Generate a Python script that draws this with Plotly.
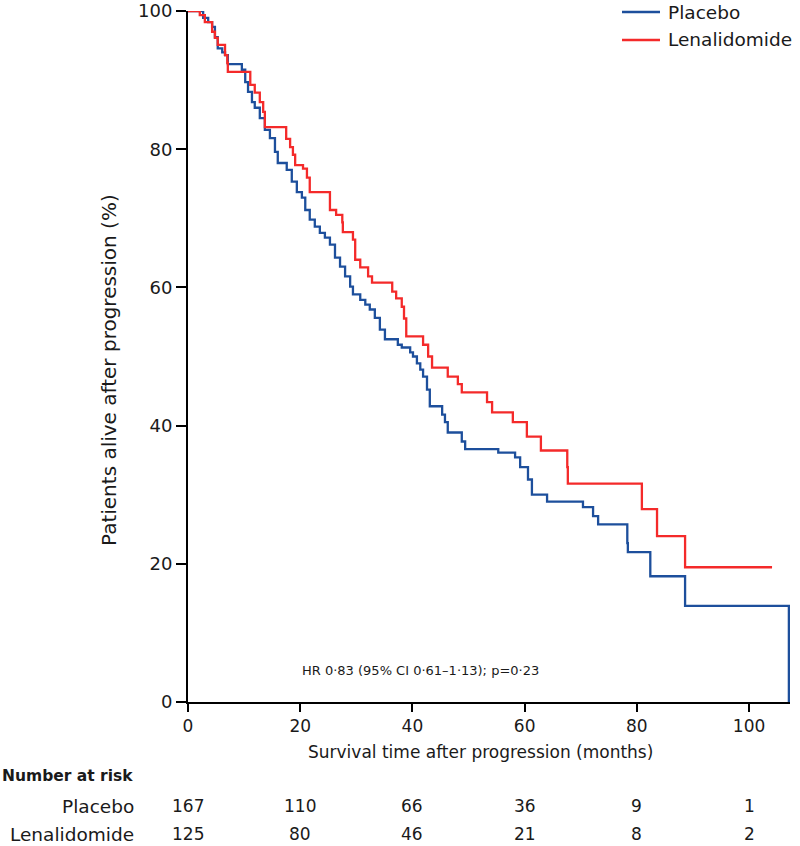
import plotly.graph_objects as go

# Kaplan-Meier steps (months, % alive)
placebo_t = [0, 2.7, 3.6, 4.3, 4.8, 5.3, 6.1, 6.6, 7.1, 9.6, 10.2, 10.7, 11.4, 11.9, 12.8,
             13.7, 14.6, 15.5, 16.0, 17.6, 18.5, 19.4, 20.3, 20.9, 21.7, 22.6, 23.5, 24.4,
             25.3, 26.2, 27.1, 28.0, 28.9, 29.4, 30.7, 31.6, 32.4, 33.3, 34.2, 35.1, 37.4,
             38.1, 39.6, 40.1, 40.8, 41.4, 41.9, 42.6, 43.1, 45.3, 45.8, 46.3, 48.8, 49.4,
             55.3, 58.3, 59.2, 60.6, 61.3, 64.0, 70.4, 72.2, 73.1, 78.3, 78.4, 82.4, 88.6,
             107.1, 107.1]
placebo_s = [100, 99.0, 98.4, 97.7, 96.2, 94.6, 94.0, 93.6, 92.3, 91.5, 89.7, 88.3, 86.8, 86.0, 84.5,
             82.8, 81.6, 79.6, 78.0, 77.0, 75.3, 73.8, 73.0, 71.2, 69.8, 68.8, 67.9, 67.2,
             66.2, 64.3, 63.0, 61.6, 60.1, 59.0, 58.2, 57.5, 56.8, 55.6, 53.9, 52.5, 51.7,
             51.3, 50.6, 50.0, 49.0, 48.1, 47.1, 45.2, 42.8, 41.6, 40.5, 39.0, 37.7, 36.6,
             36.1, 35.4, 34.0, 32.2, 30.0, 29.0, 28.2, 26.9, 25.7, 23.0, 21.7, 18.2, 13.9,
             13.9, 0]

lena_t = [0, 2.1, 3.0, 4.3, 4.8, 5.3, 6.6, 7.0, 7.1, 11.1, 11.9, 12.8, 13.4, 13.7, 17.5,
          18.2, 18.7, 19.1, 20.5, 21.2, 21.7, 25.3, 26.4, 27.5, 27.6, 29.4, 29.8, 30.7, 32.1,
          32.8, 36.4, 37.1, 38.1, 38.5, 38.9, 41.9, 42.8, 43.5, 46.3, 48.1, 48.8, 53.3, 54.2,
          57.9, 60.4, 62.9, 67.6, 67.7, 80.9, 83.6, 88.6, 104.1]
lena_s = [100, 99.4, 98.4, 97.0, 96.1, 95.1, 93.6, 92.5, 91.2, 89.3, 88.2, 86.8, 85.4, 83.2, 81.5,
          80.3, 79.2, 77.7, 77.2, 75.9, 73.8, 71.2, 70.5, 69.4, 68.0, 66.9, 64.0, 62.9, 61.6,
          60.7, 59.4, 58.4, 57.2, 55.5, 52.9, 51.7, 50.0, 48.4, 47.1, 46.0, 44.8, 43.4, 41.9,
          40.5, 38.4, 36.4, 34.0, 31.6, 27.9, 24.0, 19.5, 19.5]

risk_times = [0, 20, 40, 60, 80, 100]
placebo_risk = [167, 110, 66, 36, 9, 1]
lena_risk = [125, 80, 46, 21, 8, 2]

BLUE = '#1d4f9c'
RED = '#f42a2a'
FONT = 'DejaVu Sans, Verdana, sans-serif'
INK = '#1a1a1a'

# plot box in pixels (used to place the text outside it)
L, R, T, B = 188, 790, 11, 702
PW, PH = R - L, B - T


def px(xp):
    return (xp - L) / PW


def py(yp):
    return (B - yp) / PH


fig = go.Figure()
fig.add_trace(go.Scatter(x=placebo_t, y=placebo_s, mode='lines', name='Placebo',
                         line=dict(color=BLUE, width=2.3, shape='hv')))
fig.add_trace(go.Scatter(x=lena_t, y=lena_s, mode='lines', name='Lenalidomide',
                         line=dict(color=RED, width=2.3, shape='hv')))

ann = [
    dict(x=20, y=4.6, xref='x', yref='y', xanchor='left', yanchor='middle',
         text='HR 0·83 (95% CI 0·61–1·13); p=0·23', showarrow=False,
         font=dict(size=13, color=INK, family=FONT)),
    dict(x=px(480), y=py(752), xref='paper', yref='paper', xanchor='center', yanchor='middle',
         text='Survival time after progression (months)', showarrow=False,
         font=dict(size=17, color=INK, family=FONT)),
    dict(x=px(109), y=py(370), xref='paper', yref='paper', xanchor='center', yanchor='middle',
         text='Patients alive after progression (%)', textangle=-90, showarrow=False,
         font=dict(size=20, color=INK, family=FONT)),
    dict(x=px(0), y=py(776), xref='paper', yref='paper', xanchor='left', yanchor='middle',
         text='<b>Number at risk</b>', showarrow=False,
         font=dict(size=15.5, color=INK, family=FONT)),
]

# legend drawn by hand so it can sit on the top edge
shapes = []
for name, col, yp in [('Placebo', BLUE, 12), ('Lenalidomide', RED, 40)]:
    shapes.append(dict(type='line', xref='paper', yref='paper', x0=px(622), x1=px(660),
                       y0=py(yp), y1=py(yp), line=dict(color=col, width=2.5)))
    ann.append(dict(x=px(666), y=py(yp), xref='paper', yref='paper', xanchor='left',
                    yanchor='middle', text=name, showarrow=False,
                    font=dict(size=18.5, color=INK, family=FONT)))

for lab, vals, yp in [('Placebo', placebo_risk, 806), ('Lenalidomide', lena_risk, 834)]:
    ann.append(dict(x=px(136), y=py(yp), xref='paper', yref='paper', xanchor='right',
                    yanchor='middle', text=lab, showarrow=False,
                    font=dict(size=18.5, color=INK, family=FONT)))
    for t, v in zip(risk_times, vals):
        ann.append(dict(x=t, y=py(yp), xref='x', yref='paper', xanchor='center',
                        yanchor='middle', text=str(v), showarrow=False,
                        font=dict(size=17, color=INK, family=FONT)))

fig.update_layout(
    width=800, height=846,
    margin=dict(l=L, r=800 - R, t=T, b=846 - B),
    paper_bgcolor='white', plot_bgcolor='white',
    showlegend=False,
    annotations=ann,
    shapes=shapes,
)
fig.update_xaxes(range=[0, 107.3], tickvals=risk_times, showline=True, linecolor='black',
                 linewidth=2, ticks='outside', ticklen=8, tickwidth=1.5, tickcolor='black',
                 showgrid=False, zeroline=False, automargin=False,
                 tickfont=dict(size=17, color=INK, family=FONT))
fig.update_yaxes(range=[0, 100], tickvals=[0, 20, 40, 60, 80, 100], showline=True,
                 linecolor='black', linewidth=2, ticks='outside', ticklen=10, tickwidth=1.5,
                 tickcolor='black', showgrid=False, zeroline=False, automargin=False,
                 tickfont=dict(size=18, color=INK, family=FONT))

# drop the page's default body margin so the figure sits at the window corner
fig.write_html("out.html", config={'displayModeBar': False},
               post_script="document.body.style.margin='0px';")
